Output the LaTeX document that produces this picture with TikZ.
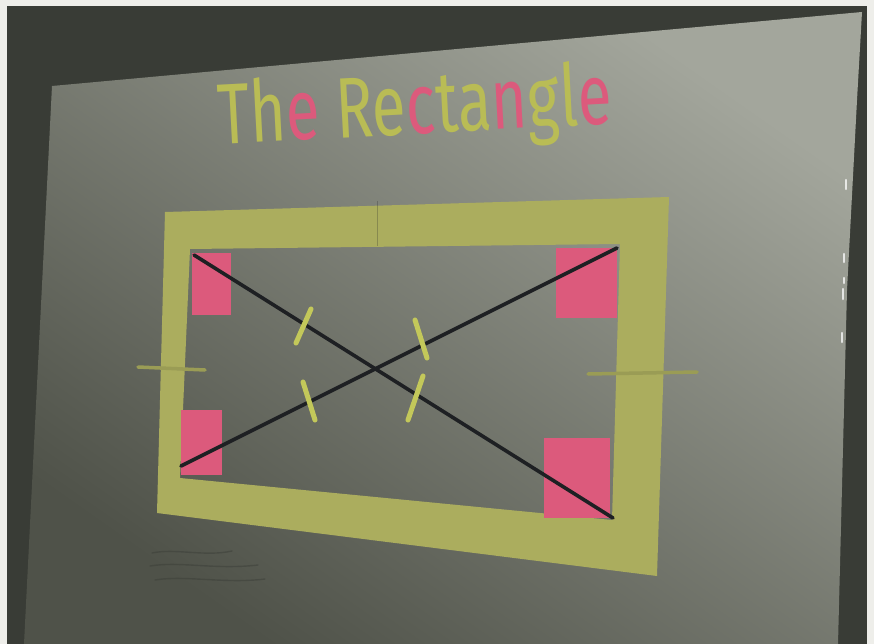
\documentclass[tikz,border=0pt]{standalone}
\usepackage{fontspec}
\setmainfont{Fira Sans}
\definecolor{bgwhite}{HTML}{EEEEEA}
\definecolor{wall}{HTML}{393C36}
\definecolor{posterlight}{HTML}{A3A69C}
\definecolor{posterdark}{HTML}{4F5249}
\definecolor{tape}{HTML}{ABAD5E}
\definecolor{mpink}{HTML}{DC5A7C}
\definecolor{myellow}{HTML}{C3C85A}
\definecolor{tyellow}{HTML}{B9BC55}
\definecolor{ink}{HTML}{1E2023}
\tikzset{
  diag/.style={ink, line width=3.6pt, line cap=round},
  yelmark/.style={myellow, line width=5pt, line cap=round},
  sidetick/.style={tape!90!black, line width=3.5pt, line cap=round},
  pinkbox/.style={fill=mpink, draw=none},
  glare/.style={white, opacity=0.75, line width=2.5pt, line cap=round},
  scribble/.style={wall, opacity=0.45, line width=1.4pt, line cap=round}
}
\begin{document}
\begin{tikzpicture}[x=1pt,y=-1pt]
\useasboundingbox (0,0) rectangle (874,644);
\fill[bgwhite] (0,0) rectangle (874,644);
\fill[wall] (7,6) rectangle (867,644);
% poster sheet
\coordinate (p1) at (52,86);
\coordinate (p2) at (862,12);
\coordinate (p2b) at (857,100);
\coordinate (p2c) at (847,290);
\coordinate (p3) at (838,644);
\coordinate (p4) at (24,644);
\shade[top color=posterlight, bottom color=posterdark, shading angle=-35]
  (p1) -- (p2) -- (p2b) -- (p2c) -- (p3) -- (p4) -- cycle;
% glare on the right edge
\draw[glare] (846,180) -- (846,189);
\draw[glare] (844,254) -- (844,262);
\draw[glare] (844,278) -- (844,283);
\draw[glare] (843,289) -- (843,299);
\draw[glare] (842,333) -- (842,342);
% yellow tape frame
\fill[tape, even odd rule]
  (165,212) -- (669,197) -- (657,576) -- (157,513) -- cycle
  (190,249) -- (620,244) -- (612,520) -- (180,478) -- cycle;
\draw[ink, opacity=0.25, line width=1pt] (377,201) -- (377,246);
% pink corner squares
\fill[pinkbox] (192,253) rectangle (231,315);
\fill[pinkbox] (181,410) rectangle (222,475);
\fill[pinkbox] (556,248) rectangle (617,318);
\fill[pinkbox] (544,438) rectangle (610,518);
% side ticks
\coordinate (lt1) at (138,367);
\coordinate (lt2) at (205,370);
\coordinate (rt1) at (588,374);
\coordinate (rt2) at (697,372);
\draw[sidetick] (lt1) -- (lt2);
\draw[sidetick] (rt1) -- (rt2);
% diagonals
\coordinate (a) at (194,255);
\coordinate (b) at (613,518);
\coordinate (c) at (181,466);
\coordinate (d) at (617,248);
\draw[diag] (a) -- (b);
\draw[diag] (c) -- (d);
% yellow marks on the diagonals
\coordinate (m1a) at (296,343); \coordinate (m1b) at (311,309);
\coordinate (m2a) at (303,382); \coordinate (m2b) at (315,420);
\coordinate (m3a) at (415,320); \coordinate (m3b) at (427,358);
\coordinate (m4a) at (423,376); \coordinate (m4b) at (408,420);
\draw[yelmark] (m1a) -- (m1b);
\draw[yelmark] (m2a) -- (m2b);
\draw[yelmark] (m3a) -- (m3b);
\draw[yelmark] (m4a) -- (m4b);
% faint scribble bottom left
\draw[scribble] (152,553) .. controls (175,548) and (205,557) .. (232,551);
\draw[scribble] (150,566) .. controls (180,561) and (215,570) .. (258,565);
\draw[scribble] (155,580) .. controls (185,575) and (225,584) .. (265,579);
% title
\node[anchor=base, rotate=3, inner sep=0pt] (title) at (416,134)
  {\scalebox{0.72}[1]{\fontsize{86}{90}\selectfont
   {\color{tyellow}Th}{\color{mpink}e} {\color{tyellow}Re}{\color{mpink}c}{\color{tyellow}ta}{\color{mpink}n}{\color{tyellow}gl}{\color{mpink}e}}};
\end{tikzpicture}
\end{document}
